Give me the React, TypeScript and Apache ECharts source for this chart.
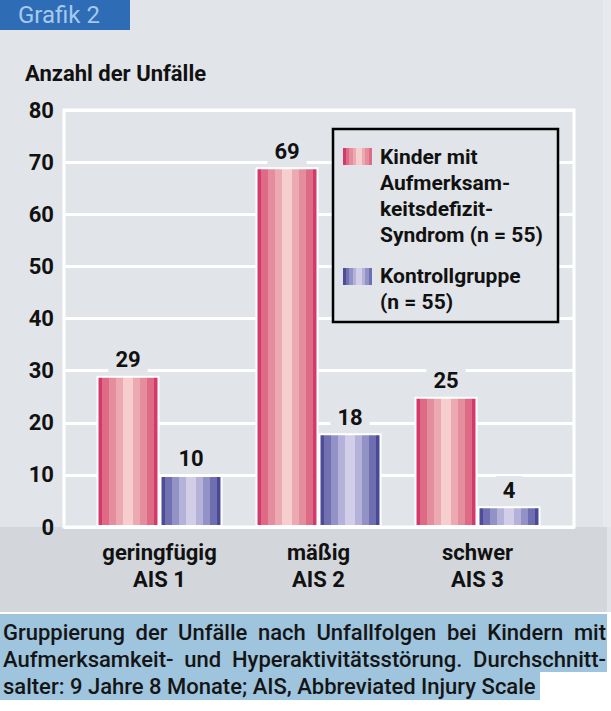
import React, { useEffect, useRef } from 'react';
import * as echarts from 'echarts';

const categories = ['geringfügig\nAIS 1', 'mäßig\nAIS 2', 'schwer\nAIS 3'];
const adhsValues = [29, 69, 25];
const controlValues = [10, 18, 4];
const seriesNames = ['Kinder mit\nAufmerksam-\nkeitsdefizit-\nSyndrom (n = 55)', 'Kontrollgruppe\n(n = 55)'];
const yMin = 0;
const yMax = 80;
const yInterval = 10;
const chartTitle = 'Grafik 2';
const axisTitle = 'Anzahl der Unfälle';
const captionLines = [
  'Gruppierung der Unfälle nach Unfallfolgen bei Kindern mit',
  'Aufmerksamkeit- und Hyperaktivitätsstörung. Durchschnitt-',
  'salter: 9 Jahre 8 Monate; AIS, Abbreviated Injury Scale',
];

const FONT = "Roboto, 'Noto Sans', sans-serif";
const BG = '#e1e4e8';
const BAND = '#d3d6db';
const CAPTION_BG = '#9ec4de';

const pinkBands = ['#d4396b', '#df6a86', '#e48d9c', '#eca9b1', '#f6cecd', '#eca9b1', '#e48d9c', '#dd6b85', '#d23a6b'];
const purpleBands = ['#4e4c99', '#7171b1', '#9392c6', '#b5b2d9', '#d2cee8', '#b5b2d9', '#9392c6', '#6f6eb0', '#4a4995'];
const bandWidths = [5, 7, 7, 7, 10, 7, 7, 7, 5];

function stripes(colors: string[]) {
  const total = bandWidths.reduce((a, b) => a + b, 0);
  const stops: { offset: number; color: string }[] = [];
  let acc = 0;
  colors.forEach((c, i) => {
    const s = acc / total;
    acc += bandWidths[i];
    const e = acc / total;
    stops.push({ offset: s, color: c });
    stops.push({ offset: e, color: c });
  });
  return new echarts.graphic.LinearGradient(0, 0, 1, 0, stops);
}

function captionElements() {
  const size = 22;
  const weight = 500;
  const canvas = document.createElement('canvas');
  const ctx = canvas.getContext('2d') as CanvasRenderingContext2D;
  ctx.font = `${weight} ${size}px ${FONT}`;
  const x0 = 3;
  const width = 603;
  const ys = [632, 659, 686];
  const els: any[] = [];
  captionLines.forEach((line, li) => {
    const justify = li < captionLines.length - 1;
    const base = { fill: '#151515', fontSize: size, fontWeight: weight, fontFamily: FONT, verticalAlign: 'middle', align: 'left' };
    if (!justify) {
      els.push({ type: 'text', x: x0, y: ys[li], z: 5, style: { ...base, text: line } });
      return;
    }
    const words = line.split(' ');
    const ws = words.map((w) => ctx.measureText(w).width);
    const sum = ws.reduce((a, b) => a + b, 0);
    const gap = (width - sum) / (words.length - 1);
    let x = x0;
    words.forEach((w, i) => {
      els.push({ type: 'text', x, y: ys[li], z: 5, style: { ...base, text: w } });
      x += ws[i] + gap;
    });
  });
  return els;
}

export default function App() {
  const ref = useRef<HTMLDivElement>(null);
  useEffect(() => {
    document.body.style.margin = '0';
    if (!ref.current) return;
    const chart = echarts.init(ref.current, undefined, { renderer: 'svg' });
    const pink = stripes(pinkBands);
    const purple = stripes(purpleBands);
    const labelStyle = {
      show: true,
      position: 'top',
      distance: 2,
      fontSize: 22,
      fontWeight: 'bold',
      color: '#111',
      fontFamily: FONT,
      backgroundColor: BG,
      padding: [3, 7, 3, 7],
      lineHeight: 22,
    };
    const legendText = { fontSize: 21, fontWeight: 'bold', color: '#111', fontFamily: FONT, lineHeight: 26 };
    const option: any = {
      animation: false,
      backgroundColor: BG,
      textStyle: { fontFamily: FONT },
      title: [
        {
          text: chartTitle, left: 18, top: 2, padding: 0,
          textStyle: { color: '#a6c9ee', fontSize: 24, fontWeight: 'normal', fontFamily: FONT, lineHeight: 26 },
        },
        {
          text: axisTitle, left: 25, top: 62, padding: 0,
          textStyle: { color: '#111', fontSize: 22, fontWeight: 'bold', fontFamily: FONT, lineHeight: 22 },
        },
      ],
      grid: [
        { left: 64, right: 37, top: 110, bottom: 184, show: true, borderColor: '#ffffff', borderWidth: 3, backgroundColor: 'transparent' },
        { left: 80, width: 477, top: 110, bottom: 184 },
      ],
      xAxis: [
        { type: 'value', gridIndex: 0, show: false, min: 0, max: 1 },
        {
          type: 'category', gridIndex: 1, data: categories,
          axisLine: { show: false }, axisTick: { show: false },
          axisLabel: { interval: 0, margin: 12, fontSize: 22, fontWeight: 'bold', color: '#111', fontFamily: FONT, lineHeight: 27 },
        },
      ],
      yAxis: [
        {
          type: 'value', gridIndex: 0, min: yMin, max: yMax, interval: yInterval,
          axisLine: { show: false }, axisTick: { show: false },
          axisLabel: { margin: 10, fontSize: 22, fontWeight: 'bold', color: '#111', fontFamily: FONT },
          splitLine: { show: true, lineStyle: { color: '#ffffff', width: 3 } },
        },
        { type: 'value', gridIndex: 1, min: yMin, max: yMax, interval: yInterval, show: false, splitLine: { show: false } },
      ],
      legend: [
        {
          data: [{ name: seriesNames[0], icon: 'path://M0 4H29V21H0Z M0 0L0.01 0 M31.99 104L32 104' }],
          left: 343, top: 144, padding: 0, itemWidth: 32, itemHeight: 104, z: 10,
          selectedMode: false,
          itemStyle: { borderWidth: 0 },
          textStyle: legendText,
        },
        {
          data: [{ name: seriesNames[1], icon: 'path://M0 5H29V22H0Z M0 0L0.01 0 M31.99 52L32 52' }],
          left: 343, top: 263, padding: 0, itemWidth: 32, itemHeight: 52, z: 10,
          selectedMode: false,
          itemStyle: { borderWidth: 0 },
          textStyle: legendText,
        },
      ],
      graphic: [
        { type: 'rect', z: -1, shape: { x: 0, y: 0, width: 130, height: 30 }, style: { fill: '#2e6cb5' } },
        { type: 'rect', z: -1, shape: { x: 0, y: 527, width: 607, height: 85 }, style: { fill: BAND } },
        { type: 'rect', z: -1, shape: { x: 603, y: 0, width: 8, height: 527 }, style: { fill: '#e7e9ec' } },
        { type: 'rect', z: -1, shape: { x: 0, y: 612, width: 611, height: 99 }, style: { fill: '#ffffff' } },
        { type: 'rect', z: 1, shape: { x: 0, y: 614, width: 607, height: 58 }, style: { fill: CAPTION_BG } },
        { type: 'rect', z: 1, shape: { x: 0, y: 672, width: 540, height: 28 }, style: { fill: CAPTION_BG } },
        { type: 'rect', z: 3, shape: { x: 333, y: 129, width: 225, height: 193 }, style: { fill: BG, stroke: '#000', lineWidth: 2.5 } },
        ...captionElements(),
      ],
      series: [
        {
          name: seriesNames[0], type: 'bar', xAxisIndex: 1, yAxisIndex: 1, data: adhsValues,
          barWidth: 63, barGap: '0%',
          itemStyle: { color: pink, borderColor: '#ffffff', borderWidth: 2 },
          label: labelStyle,
        },
        {
          name: seriesNames[1], type: 'bar', xAxisIndex: 1, yAxisIndex: 1, data: controlValues,
          barWidth: 63, barGap: '0%',
          itemStyle: { color: purple, borderColor: '#ffffff', borderWidth: 2 },
          label: labelStyle,
        },
      ],
    };
    chart.setOption(option);
    return () => chart.dispose();
  }, []);
  return <div ref={ref} style={{ width: 611, height: 711 }} />;
}
